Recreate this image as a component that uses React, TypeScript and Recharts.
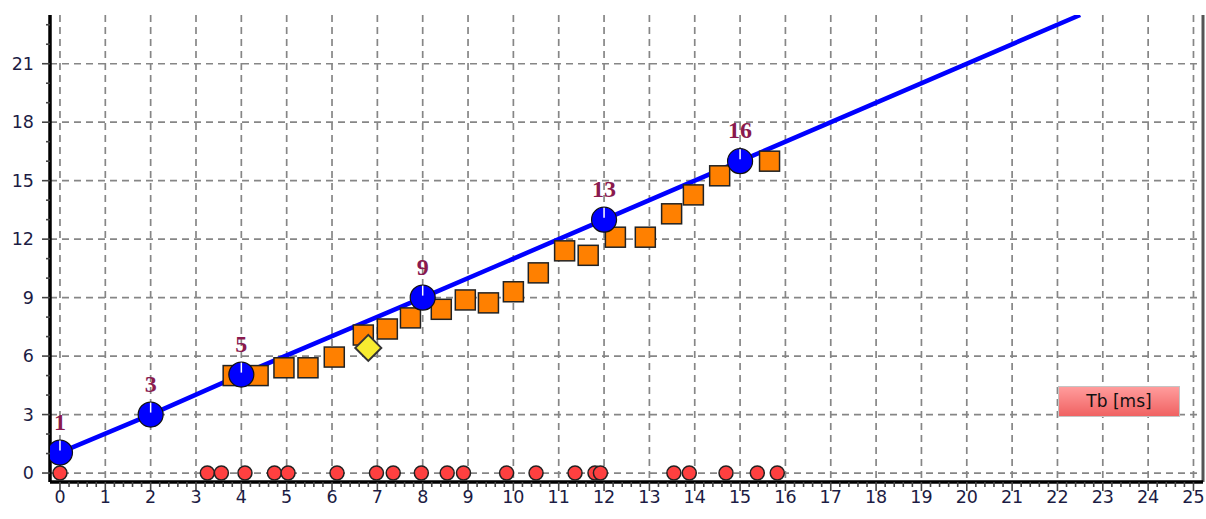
import React from 'react';
import {
  ComposedChart,
  Line,
  Scatter,
  XAxis,
  YAxis,
  CartesianGrid,
  ReferenceLine,
} from 'recharts';

// tick labels
const xMajor = [0, 1, 2, 3, 4, 5, 6, 7, 8, 9, 10, 11, 12, 13, 14, 15, 16, 17, 18, 19, 20, 21, 22, 23, 24, 25];
const yMajor = [0, 3, 6, 9, 12, 15, 18, 21];
const xMinor = Array.from({ length: 126 }, (_, i) => Math.round(i * 2) / 10).filter((v) => v % 1 !== 0);
const yMinor = [1, 2, 4, 5, 7, 8, 10, 11, 13, 14, 16, 17, 19, 20, 22, 23];

// red dots on the baseline
const redX = [0, 3.25, 3.56, 4.08, 4.73, 5.03, 6.11, 6.98, 7.35, 7.97, 8.54, 8.9, 9.85, 10.5, 11.36, 11.8, 11.92, 13.54, 13.88, 14.69, 15.38, 15.82];

// orange squares
const sqX = [3.82, 4.37, 4.94, 5.47, 6.05, 6.69, 7.22, 7.73, 8.41, 8.94, 9.45, 10.0, 10.55, 11.13, 11.65, 12.25, 12.91, 13.49, 13.97, 14.55, 15.65];
const sqY = [5.0, 5.0, 5.4, 5.4, 5.95, 7.08, 7.39, 7.96, 8.4, 8.88, 8.73, 9.3, 10.27, 11.4, 11.17, 12.1, 12.1, 13.3, 14.27, 15.25, 16.0];

// yellow diamond
const diaX = [6.8];
const diaY = [6.42];

// blue points + labels
const ptX = [0, 2, 4, 8, 12, 15];
const ptY = [1.05, 3, 5.05, 9, 13, 16];
const ptLabel = ['1', '3', '5', '9', '13', '16'];

// fitted line
const lineX = [0, 2, 4, 8, 12, 15, 22.5];
const lineY = [1.05, 3, 5.05, 9, 13, 16, 23.5];

const redData = redX.map((x) => ({ x, y: 0 }));
const sqData = sqX.map((x, i) => ({ x, y: sqY[i] }));
const diaData = diaX.map((x, i) => ({ x, y: diaY[i] }));
const ptData = ptX.map((x, i) => ({ x, y: ptY[i], label: ptLabel[i] }));
const lineData = lineX.map((x, i) => ({ x, y: lineY[i] }));

const FONT = '"DejaVu Sans", Verdana, sans-serif';
const allXTicks = [...xMajor, ...xMinor].sort((a, b) => a - b);
const allYTicks = [...yMajor, ...yMinor].sort((a, b) => a - b);

const XTick = (props: any) => {
  const { x, y, payload } = props;
  const major = Number.isInteger(payload.value);
  return (
    <g>
      <line x1={x} x2={x} y1={y} y2={y + (major ? 9 : 5)} stroke="#444" strokeWidth={1.6} />
      {major && (
        <text x={x} y={y + 21} textAnchor="middle" fontSize={17.5} fontFamily={FONT} fill="#1c1c44">
          {payload.value}
        </text>
      )}
    </g>
  );
};

const YTick = (props: any) => {
  const { x, y, payload } = props;
  const major = yMajor.includes(payload.value);
  return (
    <g>
      <line x1={x - (major ? 8 : 4)} x2={x} y1={y} y2={y} stroke="#444" strokeWidth={1.6} />
      {major && (
        <text x={x - 16} y={y + 6} textAnchor="end" fontSize={17.5} fontFamily={FONT} fill="#1c1c44">
          {payload.value}
        </text>
      )}
    </g>
  );
};

const RedDot = (p: any) => (
  <circle cx={p.cx} cy={p.cy} r={7} fill="#ff4040" stroke="#222" strokeWidth={1.5} />
);

const Square = (p: any) => (
  <rect x={p.cx - 10} y={p.cy - 10} width={20} height={20} fill="#ff8000" stroke="#222" strokeWidth={1.5} />
);

const Diamond = (p: any) => (
  <path
    d={`M${p.cx},${p.cy - 13} L${p.cx + 13},${p.cy} L${p.cx},${p.cy + 13} L${p.cx - 13},${p.cy} Z`}
    fill="#f8ec30"
    stroke="#333"
    strokeWidth={2}
  />
);

const BluePoint = (p: any) => (
  <g>
    <circle cx={p.cx} cy={p.cy} r={12.5} fill="#0000ff" stroke="#111" strokeWidth={1.2} />
    <line x1={p.cx} x2={p.cx} y1={p.cy - 12} y2={p.cy - 2} stroke="#fff" strokeWidth={1.5} />
    <text
      x={p.cx}
      y={p.cy - 23}
      textAnchor="middle"
      fontSize={24}
      fontWeight="bold"
      fontFamily='"Liberation Serif", serif'
      fill="#8a1a4e"
    >
      {p.payload.label}
    </text>
  </g>
);

export default function App() {
  return (
    <div style={{ position: 'absolute', left: 0, top: 0, width: 1206, height: 519, background: '#fff' }}>
      <ComposedChart width={1206} height={519} margin={{ top: 15, right: 3, left: 0, bottom: 0 }}>
        <CartesianGrid
          stroke="#868686"
          strokeWidth={1.7}
          strokeDasharray="7 5"
          verticalValues={xMajor}
          horizontalValues={yMajor}
        />
        <XAxis
          type="number"
          dataKey="x"
          domain={[-0.22, 25.21]}
          allowDataOverflow
          ticks={allXTicks}
          interval={0}
          height={37}
          tickSize={0}
          tickMargin={0}
          tickLine={false}
          tick={<XTick />}
          axisLine={{ stroke: '#000', strokeWidth: 3.5 }}
        />
        <YAxis
          type="number"
          dataKey="y"
          domain={[-0.46, 23.5]}
          allowDataOverflow
          ticks={allYTicks}
          interval={0}
          width={50}
          tickSize={0}
          tickMargin={0}
          tickLine={false}
          tick={<YTick />}
          axisLine={{ stroke: '#000', strokeWidth: 3.5 }}
        />
        <ReferenceLine x={25.21} stroke="#555" strokeWidth={3} />
        <Scatter data={redData} dataKey="y" shape={RedDot} isAnimationActive={false} />
        <Scatter data={sqData} dataKey="y" shape={Square} isAnimationActive={false} />
        <Line
          data={lineData}
          dataKey="y"
          type="linear"
          stroke="#0000ff"
          strokeWidth={4.5}
          dot={false}
          activeDot={false}
          isAnimationActive={false}
        />
        <Scatter data={diaData} dataKey="y" shape={Diamond} isAnimationActive={false} />
        <Scatter data={ptData} dataKey="y" shape={BluePoint} isAnimationActive={false} />
      </ComposedChart>
      <div
        style={{
          position: 'absolute',
          left: 1058,
          top: 386,
          width: 120,
          height: 29,
          background: 'linear-gradient(#ff9c9c, #f06262)',
          border: '1px solid #c4c4c4',
          fontFamily: FONT,
          fontSize: 17,
          lineHeight: '29px',
          textAlign: 'center',
          color: '#111',
        }}
      >
        Tb [ms]
      </div>
    </div>
  );
}
